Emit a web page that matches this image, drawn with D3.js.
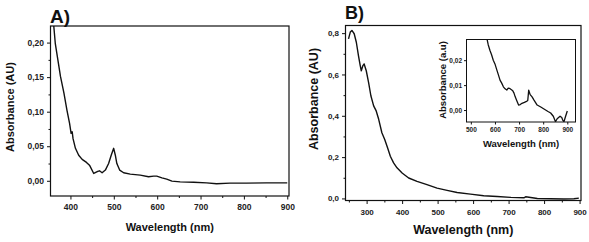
<!DOCTYPE html>
<html><head><meta charset="utf-8">
<script src="https://cdn.jsdelivr.net/npm/d3@7/dist/d3.min.js"></script>
<style>
body{margin:0;background:#fff;}
svg{display:block;font-family:"Liberation Sans",Arial,sans-serif;font-weight:bold;}
</style></head>
<body><svg id="c" width="589" height="242"></svg>
<script>
// Panel A data (wavelength nm, absorbance AU)
const aWavelength = [361,365,371,377,385,392,398,401.5,404,406,411.5,419,427,437,444.5,453.7,463,467,473,480.5,488,494,499.7,503.5,507,513.5,522.7,538,561,580,592,599,611,622,634,653,684,714,737,768,806,852,900];
const aAbsorbance = [0.228,0.199,0.175,0.151,0.127,0.102,0.083,0.0686,0.071,0.061,0.047,0.037,0.031,0.0266,0.022,0.0106,0.0135,0.0145,0.0116,0.0155,0.025,0.037,0.047,0.037,0.025,0.0155,0.0116,0.0097,0.0082,0.0058,0.0068,0.0068,0.0043,0.0024,-0.0005,-0.0015,-0.002,-0.003,-0.0043,-0.0034,-0.0034,-0.003,-0.003];
const aXTicks = [400,500,600,700,800,900];
const aYTicks = [0,0.05,0.10,0.15,0.20];

// Panel B data
const bWavelength = [249,254,258.6,265,271,277,282,285,289.6,293,299,305.6,312,319.8,327,334,343,351,359,366.8,376,385.6,400,418.5,442,470,498.5,526.7,555,592.6,630,667.8,705.5,743,748,781,818,856,884,898];
const bAbsorbance = [0.772,0.805,0.813,0.797,0.756,0.691,0.643,0.618,0.643,0.651,0.618,0.561,0.497,0.448,0.4235,0.383,0.318,0.2856,0.245,0.2045,0.172,0.148,0.123,0.099,0.0828,0.0665,0.050,0.039,0.029,0.021,0.013,0.0097,0.0049,0.0032,0.008,0.0,-0.0016,-0.003,-0.0016,0.0016];
const bXTicks = [300,400,500,600,700,800,900];
const bYTicks = [0,0.2,0.4,0.6,0.8];

// Inset data
const iWavelength = [566,572,579,586,593,600,608,614,621,628,635,642,649,655,660,667,674,679,684,691,698,705,712,722,733,736,740,746,754,762,775,790,810,820,831,842,851,858,864,870,877,881,886,893,900];
const iAbsorbance = [0.0290,0.0262,0.0240,0.0222,0.0200,0.0185,0.0160,0.0142,0.0120,0.0108,0.0093,0.0085,0.0080,0.0088,0.0087,0.0082,0.0077,0.0068,0.0053,0.0036,0.0020,0.0022,0.0027,0.0031,0.0036,0.0038,0.0080,0.0062,0.0053,0.0040,0.0020,0.0012,0.0000,-0.0006,-0.0012,-0.0025,-0.0047,-0.0035,-0.0030,-0.0025,-0.0030,-0.0040,-0.0047,-0.0025,-0.0004];
const iXTicks = [500,600,700,800,900];
const iYTicks = [0,0.01,0.02];

const svg = d3.select("#c");
const commaFmt = d => d3.format(",")(d);

function panel(opt){
  const g = svg.append("g");
  const x = d3.scaleLinear().domain(opt.xDomain).range([opt.x0, opt.x1]);
  const y = d3.scaleLinear().domain(opt.yDomain).range([opt.y1, opt.y0]);
  const id = "clip" + opt.name;
  svg.append("clipPath").attr("id", id).append("rect")
    .attr("x", opt.x0).attr("y", opt.y0).attr("width", opt.x1-opt.x0).attr("height", opt.y1-opt.y0);
  g.append("rect").attr("x", opt.x0).attr("y", opt.y0).attr("width", opt.x1-opt.x0).attr("height", opt.y1-opt.y0)
    .attr("fill", "#fff").attr("stroke", "none");
  // minor ticks
  if (opt.xMinor) {
    g.append("g").attr("transform", `translate(0,${opt.y1})`)
      .call(d3.axisBottom(x).tickValues(opt.xMinor).tickSize(opt.minorLen).tickFormat("").tickSizeOuter(0))
      .call(s => s.select(".domain").remove());
  }
  if (opt.yMinor) {
    g.append("g").attr("transform", `translate(${opt.x0},0)`)
      .call(d3.axisLeft(y).tickValues(opt.yMinor).tickSize(opt.minorLen).tickFormat("").tickSizeOuter(0))
      .call(s => s.select(".domain").remove());
  }
  const xa = g.append("g").attr("transform", `translate(0,${opt.y1})`)
    .call(d3.axisBottom(x).tickValues(opt.xTicks).tickSize(opt.majorLen).tickPadding(opt.xPad).tickSizeOuter(0).tickFormat(d3.format("d")));
  xa.select(".domain").remove();
  xa.selectAll("text").attr("font-size", opt.tickFont).attr("font-weight", "bold").attr("font-family", "Liberation Sans, Arial, sans-serif").attr("fill", "#222");
  const ya = g.append("g").attr("transform", `translate(${opt.x0},0)`)
    .call(d3.axisLeft(y).tickValues(opt.yTicks).tickSize(opt.majorLen).tickPadding(opt.yPad).tickSizeOuter(0)
      .tickFormat(d => d3.format(opt.yFmt)(d).replace(".", ",")));
  ya.select(".domain").remove();
  ya.selectAll("text").attr("font-size", opt.tickFont).attr("font-weight", "bold").attr("font-family", "Liberation Sans, Arial, sans-serif").attr("fill", "#222");
  g.selectAll(".tick line").attr("stroke", "#111");
  // trace
  const line = d3.line().x((d,i)=>x(opt.xs[i])).y((d,i)=>y(opt.ys[i]));
  g.append("path").datum(opt.xs).attr("d", line).attr("fill", "none")
    .attr("stroke", "#111").attr("stroke-width", opt.lw).attr("stroke-linejoin", "round")
    .attr("clip-path", `url(#${id})`);
  // frame
  g.append("rect").attr("x", opt.x0).attr("y", opt.y0).attr("width", opt.x1-opt.x0).attr("height", opt.y1-opt.y0)
    .attr("fill", "none").attr("stroke", "#111").attr("stroke-width", opt.frameW);
  // titles
  g.append("text").attr("x", (opt.x0+opt.x1)/2).attr("y", opt.xTitleY).attr("text-anchor", "middle")
    .attr("font-size", opt.titleFont).attr("fill", "#111").text("Wavelength (nm)");
  g.append("text").attr("transform", `translate(${opt.yTitleX},${opt.yTitleCY}) rotate(-90)`).attr("text-anchor", "middle")
    .attr("font-size", opt.titleFont).attr("fill", "#111").text(opt.yTitle);
  return g;
}

panel({name:"A", x0:50.5, x1:289, y0:26, y1:196, xDomain:[354,904], yDomain:[-0.022,0.224],
  xs:aWavelength, ys:aAbsorbance, xTicks:aXTicks, yTicks:aYTicks,
  xMinor:[450,550,650,750,850], yMinor:[0.025,0.075,0.125,0.175],
  majorLen:3.5, minorLen:2, xPad:4, yPad:3, tickFont:"8.5px", yFmt:".2f", lw:1.4, frameW:1.2,
  titleFont:"11px", xTitleY:231, yTitle:"Absorbance (AU)", yTitleX:14, yTitleCY:107});

panel({name:"B", x0:345.5, x1:581, y0:25.5, y1:200.5, xDomain:[240.5,904], yDomain:[-0.01,0.837],
  xs:bWavelength, ys:bAbsorbance, xTicks:bXTicks, yTicks:bYTicks,
  xMinor:[250,350,450,550,650,750,850], yMinor:[0.1,0.3,0.5,0.7],
  majorLen:3.5, minorLen:2, xPad:5, yPad:3, tickFont:"8px", yFmt:".1f", lw:1.4, frameW:1.2,
  titleFont:"12.5px", xTitleY:234, yTitle:"Absorbance (AU)", yTitleX:317.5, yTitleCY:99});

panel({name:"I", x0:466.5, x1:575.5, y0:39.5, y1:122, xDomain:[482,934], yDomain:[-0.0048,0.0283],
  xs:iWavelength, ys:iAbsorbance, xTicks:iXTicks, yTicks:iYTicks,
  xMinor:null, yMinor:null,
  majorLen:2.5, minorLen:1.5, xPad:3, yPad:2, tickFont:"6.5px", yFmt:".2f", lw:1.3, frameW:1,
  titleFont:"9.5px", xTitleY:147, yTitle:"Absorbance (a.u)", yTitleX:446, yTitleCY:80});

svg.append("text").attr("x", 50).attr("y", 23).attr("font-size", "19px").attr("fill", "#111").text("A)");
svg.append("text").attr("x", 345).attr("y", 19).attr("font-size", "18px").attr("fill", "#111").text("B)");
</script></body></html>
